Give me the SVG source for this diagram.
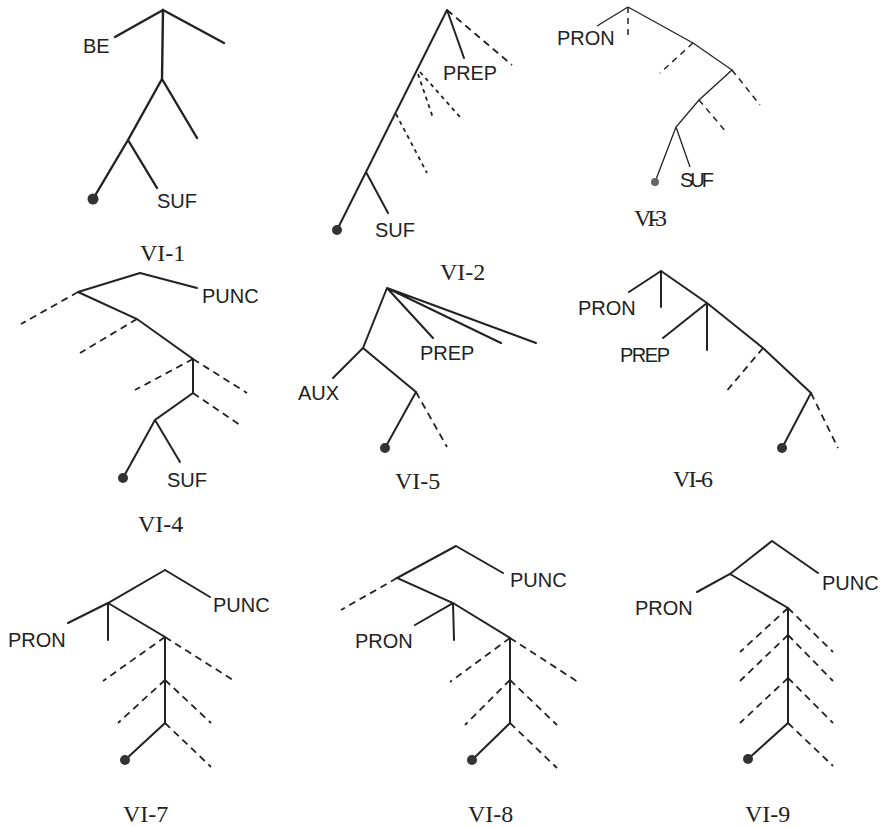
<svg xmlns="http://www.w3.org/2000/svg" width="889" height="827" viewBox="0 0 889 827">
<style>
.s{stroke:#222;stroke-width:2;fill:none;stroke-linecap:round}
.d{stroke:#222;stroke-width:1.8;fill:none;stroke-dasharray:7 5}
.ds{stroke:#222;stroke-width:1.8;fill:none;stroke-dasharray:4 4}
.t{stroke:#222;stroke-width:1.3;fill:none}
.td{stroke:#222;stroke-width:1.5;fill:none;stroke-dasharray:6 5}
.lab{font-family:"Liberation Sans",Arial,sans-serif;font-size:20px;fill:#222}
.cap{font-family:"Liberation Serif","Times New Roman",serif;font-size:24px;fill:#222}
.dot{fill:#333}
</style>
<rect width="889" height="827" fill="#fff"/>

<g id="vi1">
<g id="vi1-connectors">
<path class="s" style="stroke-width:2.4" d="M163,10L115,37M163,10L224,43M163,10L162,79M162,79L128,140M162,79L197,138M128,140L93,199M128,140L157,188"/>
</g>
<g id="vi1-be"><text class="lab" x="83" y="53">BE</text></g>
<g id="vi1-suf"><text class="lab" x="157" y="208">SUF</text></g>
<g id="vi1-root"><circle class="dot" cx="93" cy="199" r="5.5"/></g>
<text class="cap" x="140" y="261">VI-1</text>
</g>

<g id="vi2">
<g id="vi2-connectors">
<path class="s" d="M447,10L464,58M447,10L337,230M366,172L388,213"/>
<path class="d" d="M447,10L512,65"/>
<path class="ds" d="M418,74L433,118M420,72L460,117M396,114L427,173"/>
</g>
<g id="vi2-prep"><text class="lab" x="443" y="80" textLength="54" lengthAdjust="spacingAndGlyphs">PREP</text></g>
<g id="vi2-suf"><text class="lab" x="375" y="237">SUF</text></g>
<g id="vi2-root"><circle class="dot" cx="337" cy="230" r="5"/></g>
<text class="cap" x="440" y="280">VI-2</text>
</g>

<g id="vi3">
<g id="vi3-connectors">
<path class="t" d="M628,7L597,26M628,7L693,43L732,70L699,100L676,127L655,182M676,127L690,167"/>
<path class="td" d="M628,7L628,38M693,43L660,73M732,70L760,105M699,100L727,133"/>
</g>
<g id="vi3-pron"><text class="lab" x="557" y="45">PRON</text></g>
<g id="vi3-suf"><text class="lab" x="680" y="187" textLength="34" lengthAdjust="spacing">SUF</text></g>
<g id="vi3-root"><circle cx="655" cy="182" r="4" fill="#666"/></g>
<text class="cap" x="634" y="226" textLength="33" lengthAdjust="spacing">VI-3</text>
</g>

<g id="vi4">
<g id="vi4-connectors">
<path class="s" d="M140,273L78,292M140,273L197,288M78,292L137,319L193,359L193,393L155,420L123,478M155,420L180,462"/>
<path class="d" d="M78,292L21,324M137,319L80,353M193,359L135,390M193,359L247,393M193,393L240,425"/>
</g>
<g id="vi4-punc"><text class="lab" x="202" y="303">PUNC</text></g>
<g id="vi4-suf"><text class="lab" x="167" y="487">SUF</text></g>
<g id="vi4-root"><circle class="dot" cx="123" cy="478" r="5"/></g>
<text class="cap" x="138" y="532">VI-4</text>
</g>

<g id="vi5">
<g id="vi5-connectors">
<path class="s" d="M387,288L433,338M387,288L501,343M387,288L536,343M387,288L363,348L333,378M363,348L416,392L385,448"/>
<path class="d" d="M416,392L447,447"/>
</g>
<g id="vi5-prep"><text class="lab" x="420" y="360">PREP</text></g>
<g id="vi5-aux"><text class="lab" x="298" y="400">AUX</text></g>
<g id="vi5-root"><circle class="dot" cx="385" cy="448" r="5"/></g>
<text class="cap" x="395" y="489">VI-5</text>
</g>

<g id="vi6">
<g id="vi6-connectors">
<path class="s" d="M661,271L629,292M661,271L661,307M661,271L707,303L763,348L811,393L782,448M707,303L663,338M707,303L707,350"/>
<path class="d" d="M763,348L725,393M811,393L838,448"/>
</g>
<g id="vi6-pron"><text class="lab" x="578" y="315">PRON</text></g>
<g id="vi6-prep"><text class="lab" x="620" y="362" textLength="50" lengthAdjust="spacing">PREP</text></g>
<g id="vi6-root"><circle class="dot" cx="782" cy="448" r="5"/></g>
<text class="cap" x="673" y="487" textLength="40" lengthAdjust="spacing">VI-6</text>
</g>

<g id="vi7">
<g id="vi7-connectors">
<path class="s" d="M165,570L210,597M165,570L108,603L68,623M108,603L108,640M108,603L165,637L165,723L125,760"/>
<path class="d" d="M165,637L103,681M165,637L233,680M165,680L118,723M165,680L211,723M165,723L211,767"/>
</g>
<g id="vi7-punc"><text class="lab" x="213" y="612">PUNC</text></g>
<g id="vi7-pron"><text class="lab" x="8" y="647">PRON</text></g>
<g id="vi7-root"><circle class="dot" cx="125" cy="760" r="5"/></g>
<text class="cap" x="123" y="822">VI-7</text>
</g>

<g id="vi8">
<g id="vi8-connectors">
<path class="s" d="M456,546L503,573M456,546L397,578L453,603L415,625M453,603L454,640M453,603L510,638L510,723L472,760"/>
<path class="d" d="M397,578L341,610M510,638L450,682M510,638L578,682M510,680L465,725M510,680L557,725M510,723L557,768"/>
</g>
<g id="vi8-punc"><text class="lab" x="510" y="587">PUNC</text></g>
<g id="vi8-pron"><text class="lab" x="355" y="648">PRON</text></g>
<g id="vi8-root"><circle class="dot" cx="472" cy="760" r="5"/></g>
<text class="cap" x="468" y="822">VI-8</text>
</g>

<g id="vi9">
<g id="vi9-connectors">
<path class="s" d="M772,541L818,573M772,541L730,574L697,592M730,574L788,608L788,723L748,759"/>
<path class="d" d="M788,608L740,652M788,635L740,681M788,678L740,723M788,608L833,652M788,635L833,681M788,678L833,723M788,723L833,766"/>
</g>
<g id="vi9-punc"><text class="lab" x="822" y="590">PUNC</text></g>
<g id="vi9-pron"><text class="lab" x="635" y="615">PRON</text></g>
<g id="vi9-root"><circle class="dot" cx="748" cy="759" r="5"/></g>
<text class="cap" x="745" y="822">VI-9</text>
</g>
</svg>
